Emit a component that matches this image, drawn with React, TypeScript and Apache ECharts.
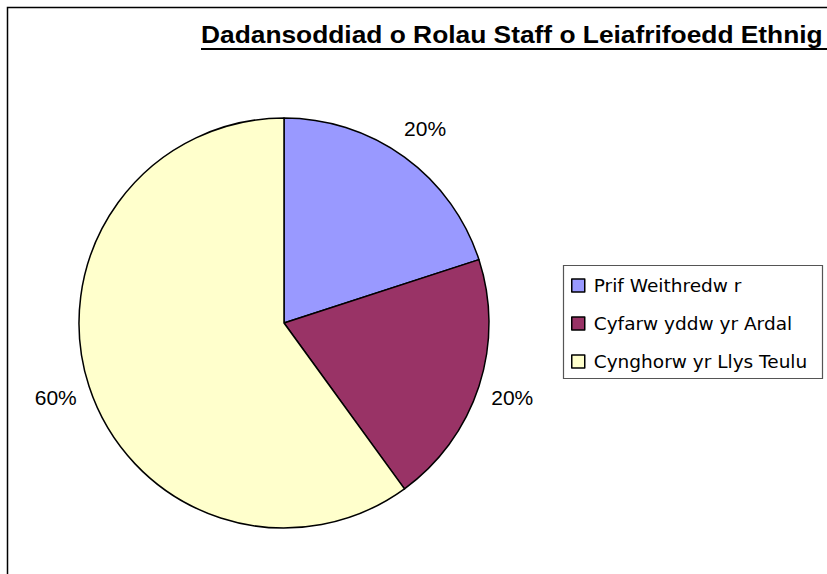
import React, { useEffect, useRef } from "react";
import * as echarts from "echarts";

const titleText = "Dadansoddiad o Rolau Staff o Leiafrifoedd Ethnig";
const categories = ["Prif Weithredw r", "Cyfarw yddw yr Ardal", "Cynghorw yr Llys Teulu"];
const values = [1, 1, 3];
const colors = ["#9999FF", "#993366", "#FFFFCC"];

export default function App() {
  const ref = useRef<HTMLDivElement>(null);
  useEffect(() => {
    document.body.style.margin = "0";
    const chart = echarts.init(ref.current!, null, { renderer: "svg" });
    const data = categories.map((name, i) => ({ name, value: values[i], itemStyle: { color: colors[i] } }));
    chart.setOption({
      animation: false,
      backgroundColor: "#ffffff",
      legend: {
        orient: "vertical",
        left: 571,
        top: 276,
        icon: "rect",
        itemWidth: 13,
        itemHeight: 13,
        itemGap: 19,
        padding: 0,
        data: categories,
        itemStyle: { borderColor: "#000", borderWidth: 1.5 },
        textStyle: { fontFamily: "DejaVu Sans", fontSize: 18.5, color: "#000", padding: [0, 0, 0, 4] },
        selectedMode: false,
      },
      graphic: [
        {
          type: "rect",
          shape: { x: 7.5, y: 7.5, width: 1000, height: 1000 },
          style: { fill: "none", stroke: "#000", lineWidth: 1.5 },
          z: 100,
        },
        {
          type: "rect",
          shape: { x: 563.5, y: 265.5, width: 259, height: 113 },
          style: { fill: "none", stroke: "#555", lineWidth: 1.2 },
        },
        {
          type: "text",
          x: 201,
          y: 35,
          scaleX: 1.145,
          style: {
            text: titleText,
            font: "bold 23px 'Liberation Sans', Arial, sans-serif",
            fill: "#000",
            align: "left",
            verticalAlign: "middle",
          },
        },
        {
          type: "line",
          shape: { x1: 201, y1: 49, x2: 900, y2: 49 },
          style: { stroke: "#000", lineWidth: 2 },
        },
      ],
      series: [
        {
          type: "pie",
          center: [284, 323],
          radius: 205,
          startAngle: 90,
          clockwise: true,
          silent: true,
          label: { show: false },
          labelLine: { show: false },
          itemStyle: { borderColor: "#000", borderWidth: 1.5 },
          data,
        },
        {
          type: "pie",
          center: [284, 323],
          radius: [205, 269],
          startAngle: 90,
          clockwise: true,
          silent: true,
          itemStyle: { color: "rgba(0,0,0,0)", borderWidth: 0 },
          label: {
            show: true,
            position: "inside",
            formatter: "{d}%",
            fontFamily: "'Liberation Sans', Arial, sans-serif",
            fontSize: 21,
            color: "#000",
          },
          labelLine: { show: false },
          data: categories.map((name, i) => ({ name, value: values[i] })),
        },
      ],
    });
    return () => chart.dispose();
  }, []);
  return <div ref={ref} style={{ position: "fixed", left: 0, top: 0, width: 827, height: 574 }} />;
}
